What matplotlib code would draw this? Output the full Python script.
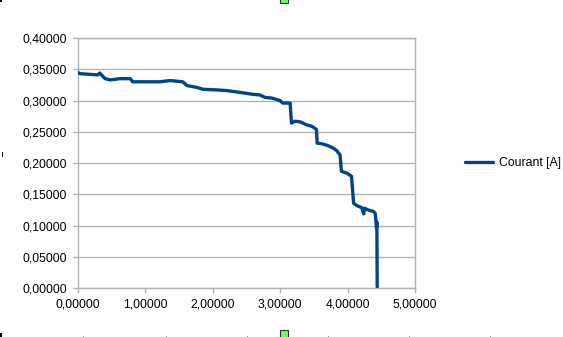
import matplotlib
matplotlib.use("Agg")
import matplotlib.pyplot as plt
from matplotlib.ticker import FuncFormatter, MultipleLocator
import matplotlib.patches as mpatches

# Data
tension = [0.00, 0.04, 0.30, 0.33, 0.39, 0.41, 0.48, 0.63, 0.78, 0.82, 1.22, 1.37,
           1.56, 1.62, 1.77, 1.86, 2.07, 2.21, 2.41, 2.60, 2.70, 2.78, 2.88, 3.00,
           3.04, 3.15, 3.17, 3.22, 3.30, 3.40, 3.47, 3.54, 3.55, 3.62, 3.71, 3.79,
           3.84, 3.89, 3.91, 3.99, 4.06, 4.09, 4.14, 4.21, 4.24, 4.25, 4.31, 4.38,
           4.41, 4.43, 4.435, 4.44]
courant = [0.345, 0.343, 0.341, 0.344, 0.337, 0.335, 0.333, 0.335, 0.335, 0.330, 0.330, 0.332,
           0.330, 0.324, 0.321, 0.318, 0.317, 0.316, 0.313, 0.310, 0.309, 0.305, 0.304, 0.300,
           0.296, 0.296, 0.264, 0.267, 0.266, 0.261, 0.259, 0.254, 0.232, 0.231, 0.228, 0.224,
           0.220, 0.213, 0.187, 0.184, 0.179, 0.136, 0.132, 0.129, 0.119, 0.128, 0.125, 0.123,
           0.120, 0.096, 0.106, 0.002]
series_label = "Courant [A]"

plt.rcParams['font.family'] = ['Liberation Sans', 'DejaVu Sans']

W, H = 563, 337
fig = plt.figure(figsize=(W / 100, H / 100), dpi=100)
ax = fig.add_axes([77.5 / W, 1 - 288.3 / H, (415 - 77.5) / W, (288.3 - 38) / H])

line, = ax.plot(tension, courant, color='#004586', lw=2.4, solid_joinstyle='round',
                solid_capstyle='round', label=series_label, zorder=3)

ax.set_xlim(0, 5)
ax.set_ylim(0, 0.4)
ax.xaxis.set_major_locator(MultipleLocator(1))
ax.yaxis.set_major_locator(MultipleLocator(0.05))
fmt = FuncFormatter(lambda v, p: f"{v:.5f}".replace('.', ','))
ax.xaxis.set_major_formatter(fmt)
ax.yaxis.set_major_formatter(fmt)

grid_c = '#b3b3b3'
ax.grid(axis='y', color=grid_c, lw=1)
ax.set_axisbelow(True)
for s in ax.spines.values():
    s.set_color(grid_c)
    s.set_linewidth(1)
ax.tick_params(axis='both', colors=grid_c, labelcolor='black', labelsize=8.8,
               length=3.5, width=1, direction='out')
ax.tick_params(axis='x', pad=4)
ax.tick_params(axis='y', pad=4)

fig.legend(handles=[line], labels=[series_label], loc='center left',
           bbox_to_anchor=(465 / W, 1 - 163 / H), frameon=False, fontsize=8.8,
           handlelength=2.3, handletextpad=0.45, borderpad=0, borderaxespad=0)

# selection handles visible in the screenshot
for yy in (-5, 330):
    fig.patches.append(mpatches.Rectangle((280 / W, 1 - (yy + 8) / H), 8 / W, 8 / H,
                                          transform=fig.transFigure, facecolor='#66ff66',
                                          edgecolor='#333333', lw=0.8))
for (px, py, w, h) in [(0, 0, 2, 2), (0, 333, 2, 4), (2, 152, 1, 5)]:
    fig.patches.append(mpatches.Rectangle((px / W, 1 - (py + h) / H), w / W, h / H,
                                          transform=fig.transFigure, facecolor='black',
                                          edgecolor='none'))
for px in (83, 166, 247, 328, 409, 490):
    fig.patches.append(mpatches.Rectangle((px / W, 0), 1 / W, 1.5 / H,
                                          transform=fig.transFigure, facecolor='#999999',
                                          edgecolor='none'))

fig.savefig('out.png', dpi=100)
